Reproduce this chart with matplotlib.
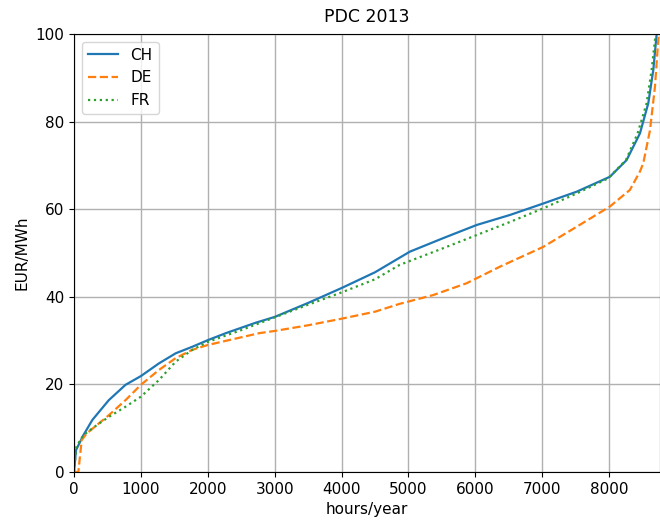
import numpy as np
import matplotlib
matplotlib.use("Agg")
import matplotlib.pyplot as plt

# price duration curves, 2013 (EUR/MWh sorted over the hours of the year)
hours_ch = [0, 30, 140, 275, 520, 770, 1000, 1270, 1520, 1770, 2000, 2270, 2720, 3000,
            3500, 4000, 4500, 5020, 5520, 6020, 6520, 7015, 7515, 8010, 8260, 8460,
            8585, 8660, 8710]
price_ch = [0, 5, 8.4, 11.9, 16.4, 19.9, 21.9, 24.8, 27.1, 28.6, 30.1, 31.7, 34.1, 35.4,
            38.6, 42, 45.6, 50.3, 53.4, 56.4, 58.7, 61.3, 64, 67.4, 71.2, 77.3,
            84.2, 91.8, 100]

hours_de = [0, 65, 115, 190, 340, 523, 770, 1000, 1270, 1520, 1770, 2000, 2770, 3000,
            3500, 4000, 4500, 4870, 5370, 5870, 6370, 7015, 7515, 8010, 8310, 8460,
            8510, 8610, 8685, 8740]
price_de = [0, 0, 7.3, 8.8, 10.7, 13, 16.4, 19.9, 23.3, 26, 27.9, 29, 31.7, 32.2,
            33.5, 35, 36.6, 38.4, 40.4, 43.1, 46.9, 51.4, 56, 60.6, 64.4, 68.6,
            70.5, 78, 88, 100]

hours_fr = [0, 35, 140, 340, 523, 770, 1000, 1270, 1520, 1770, 2000, 2500, 3000, 3500,
            4000, 4500, 4870, 5520, 6020, 6520, 7015, 7515, 7980, 8250, 8425, 8560,
            8635, 8695]
price_fr = [0, 5.8, 8.4, 10.7, 12.6, 14.9, 17.2, 21, 25.2, 27.9, 29.7, 32.4, 35.3, 38.2,
            41, 44, 47.3, 51.1, 54.1, 57.1, 60.2, 63.6, 67, 71.2, 77.3, 84.2,
            91.8, 100]

fig = plt.figure(figsize=(6.6, 5.25), dpi=100)
ax = fig.add_axes([74 / 660, 53 / 525, 586 / 660, 438 / 525])

ax.plot(hours_ch, price_ch, color="#1f77b4", linestyle="-", linewidth=1.6, label="CH")
ax.plot(hours_de, price_de, color="#ff7f0e", linestyle="--", linewidth=1.6, label="DE")
ax.plot(hours_fr, price_fr, color="#2ca02c", linestyle=":", linewidth=1.6, label="FR")

ax.set_xlim(0, 8760)
ax.set_ylim(0, 100)
ax.set_xticks(np.arange(0, 8001, 1000))
ax.set_yticks(np.arange(0, 101, 20))
ax.grid(True, color="#b0b0b0", linewidth=1)
ax.set_title("PDC 2013", fontsize=12.5, pad=9)
ax.set_xlabel("hours/year", fontsize=11)
ax.set_ylabel("EUR/MWh", fontsize=11)
ax.tick_params(labelsize=11)
ax.legend(loc="upper left", fontsize=11)

fig.savefig("out.png", dpi=100)
